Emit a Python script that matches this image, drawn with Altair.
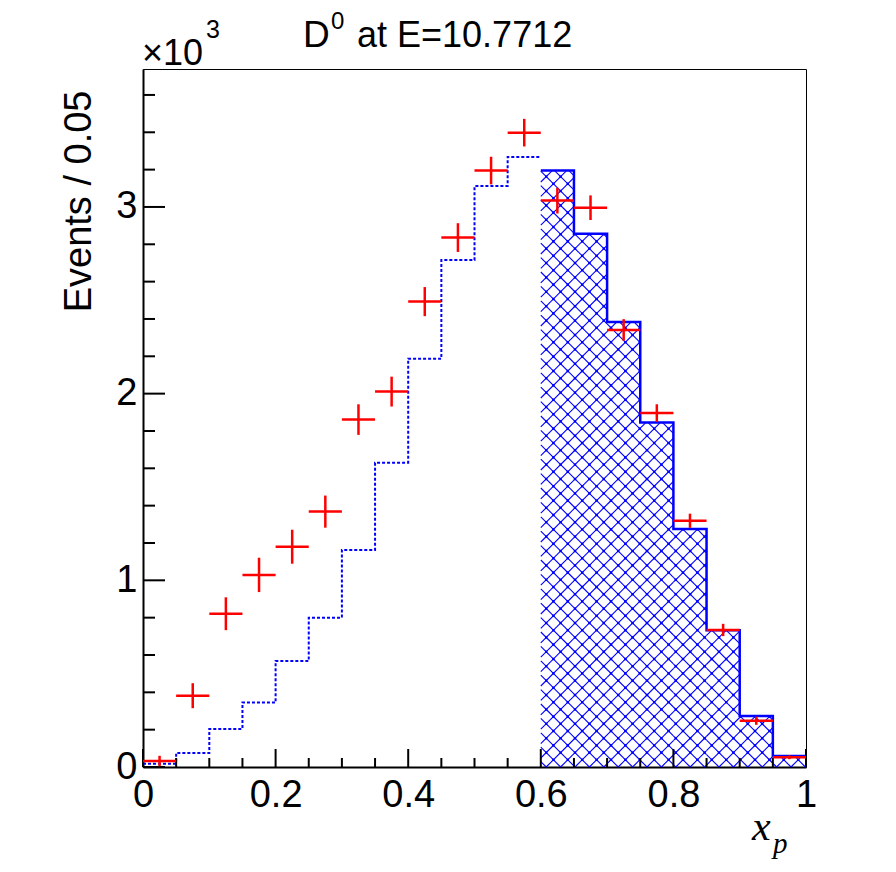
import math
import altair as alt
import pandas as pd

# ---------------- data (events per 0.05 bin) ----------------
BIN_EDGES = [0.00, 0.05, 0.10, 0.15, 0.20, 0.25, 0.30, 0.35, 0.40, 0.45,
             0.50, 0.55, 0.60, 0.65, 0.70, 0.75, 0.80, 0.85, 0.90, 0.95, 1.00]
DATA_X = [0.025, 0.075, 0.125, 0.175, 0.225, 0.275, 0.325, 0.375, 0.425, 0.475,
          0.525, 0.575, 0.625, 0.675, 0.725, 0.775, 0.825, 0.875, 0.925, 0.975]
DATA_Y = [32, 382, 821, 1029, 1180, 1368, 1861, 2011, 2493, 2836,
          3195, 3398, 3034, 2996, 2341, 1896, 1319, 734, 248, 52]
DATA_ERR = [28, 67, 88, 92, 91, 86, 82, 80, 78, 77,
            74, 74, 69, 66, 58, 47, 38, 33, 22, 10]
MC_LOW = [18, 75, 204, 345, 568, 800, 1163, 1630, 2187, 2716, 3112, 3268]   # 0.0-0.6 dotted
MC_HIGH = [3195, 2857, 2384, 1845, 1275, 732, 273, 59]                     # 0.6-1.0 hatched

Y_MAJOR = [0, 1000, 2000, 3000]
Y_MINOR = [200, 400, 600, 800, 1200, 1400, 1600, 1800, 2200, 2400, 2600, 2800, 3200, 3400, 3600]
X_MAJOR = [0.0, 0.2, 0.4, 0.6, 0.8, 1.0]
X_MINOR = [0.05, 0.1, 0.15, 0.25, 0.3, 0.35, 0.45, 0.5, 0.55, 0.65, 0.7, 0.75, 0.85, 0.9, 0.95]

TITLE_MAIN = "D"
TITLE_SUP = "0"
TITLE_REST = "at E=10.7712"
Y_TITLE = "Events / 0.05"
EXP_BASE = "\u00d710"
EXP_SUP = "3"

# ---------------- geometry / style ----------------
W, H = 663, 698
YMAX = 3739
FONT = "Liberation Sans"
BLUE = "#0000ff"
RED = "#ff0000"
HATCH_STEP = 14.4

xs = alt.Scale(domain=[0, 1], nice=False, zero=False)
ys = alt.Scale(domain=[0, YMAX], nice=False, zero=True)

n_low = len(MC_LOW)
low_df = pd.DataFrame({"x": BIN_EDGES[:n_low + 1], "y": MC_LOW + [MC_LOW[-1]]})
high_edges = BIN_EDGES[n_low:]
high_df = pd.DataFrame({"x": high_edges, "y": MC_HIGH + [MC_HIGH[-1]]})

data_df = pd.DataFrame({
    "x": DATA_X, "y": DATA_Y,
    "lo": [BIN_EDGES[i] for i in range(len(DATA_X))],
    "hi": [BIN_EDGES[i + 1] for i in range(len(DATA_X))],
    "ylo": [v - e for v, e in zip(DATA_Y, DATA_ERR)],
    "yhi": [v + e for v, e in zip(DATA_Y, DATA_ERR)],
})

# cross-hatch lines (and their crossing dots) clipped to each hatched bin,
# computed from the histogram values
def hatch(edges, vals, s=HATCH_STEP):
    rows, dots = [], []
    for x0d, x1d, v in zip(edges[:-1], edges[1:], vals):
        X0, X1 = x0d * W, x1d * W
        Hb = v / YMAX * H
        ka = range(math.floor(-X1 / s) - 1, math.ceil((Hb - X0) / s) + 2)
        kb = range(math.floor(X0 / s) - 1, math.ceil((X1 + Hb) / s) + 2)
        for k in ka:
            c = k * s
            lo, hi = max(X0, -c), min(X1, Hb - c)
            if hi > lo:
                rows.append((lo / W, (lo + c) / H * YMAX, hi / W, (hi + c) / H * YMAX))
        for k in kb:
            c = k * s
            lo, hi = max(X0, c - Hb), min(X1, c)
            if hi > lo:
                rows.append((lo / W, (c - lo) / H * YMAX, hi / W, (c - hi) / H * YMAX))
        for a in ka:
            for b in kb:
                Xi, Yi = (b - a) * s / 2, (a + b) * s / 2
                if X0 < Xi < X1 and 0 < Yi < Hb:
                    dots.append((Xi / W, Yi / H * YMAX))
    return (pd.DataFrame(rows, columns=["x", "y", "x2", "y2"]),
            pd.DataFrame(dots, columns=["x", "y"]))

hatch_df, dots_df = hatch(high_edges, MC_HIGH)

# ---------------- axes (identical on every layer so they merge) ----------------
x_axis = alt.Axis(values=X_MAJOR, format="~g", title=None, ticks=False, tickSize=0,
                  grid=False, domainColor="black", domainWidth=2,
                  labelFont=FONT, labelFontSize=38, labelColor="black",
                  labelBaseline="alphabetic", labelPadding=39, labelFlush=False,
                  labelOverlap=False)
y_axis = alt.Axis(values=Y_MAJOR, labelExpr="format(datum.value/1000, 'd')",
                  title=Y_TITLE, ticks=False, tickSize=0, grid=False,
                  domainColor="black", domainWidth=2,
                  labelFont=FONT, labelFontSize=38, labelColor="black",
                  labelPadding=6, labelFlush=False, labelOverlap=False,
                  titleFont=FONT, titleFontSize=38, titleFontWeight="normal",
                  titleColor="black", titleAngle=270, titleAlign="right",
                  titleBaseline="alphabetic", titleX=-53, titleY=21)

def X(f):
    return alt.X(f, scale=xs, axis=x_axis, title=None)

def Y(f):
    return alt.Y(f, scale=ys, axis=y_axis, title=Y_TITLE)

hatch_layer = alt.Chart(hatch_df).mark_rule(color=BLUE, strokeWidth=1.1).encode(
    x=X("x:Q"), y=Y("y:Q"), x2="x2:Q", y2="y2:Q")
dots_layer = alt.Chart(dots_df).mark_square(color=BLUE, size=6, opacity=1).encode(
    x=X("x:Q"), y=Y("y:Q"))

low_layer = alt.Chart(low_df).mark_line(
    interpolate="step-after", color=BLUE, strokeWidth=2, strokeDash=[3, 2]).encode(
    x=X("x:Q"), y=Y("y:Q"))

high_layer = alt.Chart(high_df).mark_line(
    interpolate="step-after", color=BLUE, strokeWidth=2.5).encode(
    x=X("x:Q"), y=Y("y:Q"))

ymaj = alt.Chart(pd.DataFrame({"v": Y_MAJOR})).mark_rule(color="black", strokeWidth=2).encode(
    y=Y("v:Q"), x=alt.value(0), x2=alt.value(22))
ymin = alt.Chart(pd.DataFrame({"v": Y_MINOR})).mark_rule(color="black", strokeWidth=2).encode(
    y=Y("v:Q"), x=alt.value(0), x2=alt.value(12))
xmaj = alt.Chart(pd.DataFrame({"v": X_MAJOR})).mark_rule(color="black", strokeWidth=2).encode(
    x=X("v:Q"), y=alt.value(H), y2=alt.value(H - 18))
xmin = alt.Chart(pd.DataFrame({"v": X_MINOR})).mark_rule(color="black", strokeWidth=2).encode(
    x=X("v:Q"), y=alt.value(H), y2=alt.value(H - 9))

xerr = alt.Chart(data_df).mark_rule(color=RED, strokeWidth=2.5).encode(
    x=X("lo:Q"), x2="hi:Q", y=Y("y:Q"))
yerr = alt.Chart(data_df).mark_rule(color=RED, strokeWidth=2.5).encode(
    x=X("x:Q"), y=Y("ylo:Q"), y2="yhi:Q")

def txt(s, x, y, size, font=FONT, style="normal"):
    return alt.Chart(pd.DataFrame({"t": [s]})).mark_text(
        align="left", baseline="alphabetic", font=font, fontSize=size,
        fontStyle=style, color="black").encode(
        text="t:N", x=alt.value(x), y=alt.value(y))

texts = [
    txt(EXP_BASE, -1, -4, 36),
    txt(EXP_SUP, 63, -31, 25),
    txt(TITLE_MAIN, 160, -22, 37),
    txt(TITLE_SUP, 188, -40, 24),
    txt(TITLE_REST, 214, -22, 36),
    txt("x", 609, 771, 42, font="Liberation Serif", style="italic"),
    txt("p", 630, 784, 29, font="Liberation Serif", style="italic"),
]

chart = alt.layer(hatch_layer, dots_layer, low_layer, high_layer, ymaj, ymin, xmaj, xmin,
                  xerr, yerr, *texts).properties(
    width=W, height=H,
    autosize=alt.AutoSizeParams(type="none"),
    padding={"left": 135, "top": 61, "right": 70, "bottom": 100},
    background="white",
).configure_view(stroke="black", strokeWidth=1)

chart.save("out.html", embed_options={"renderer": "svg", "actions": False})
